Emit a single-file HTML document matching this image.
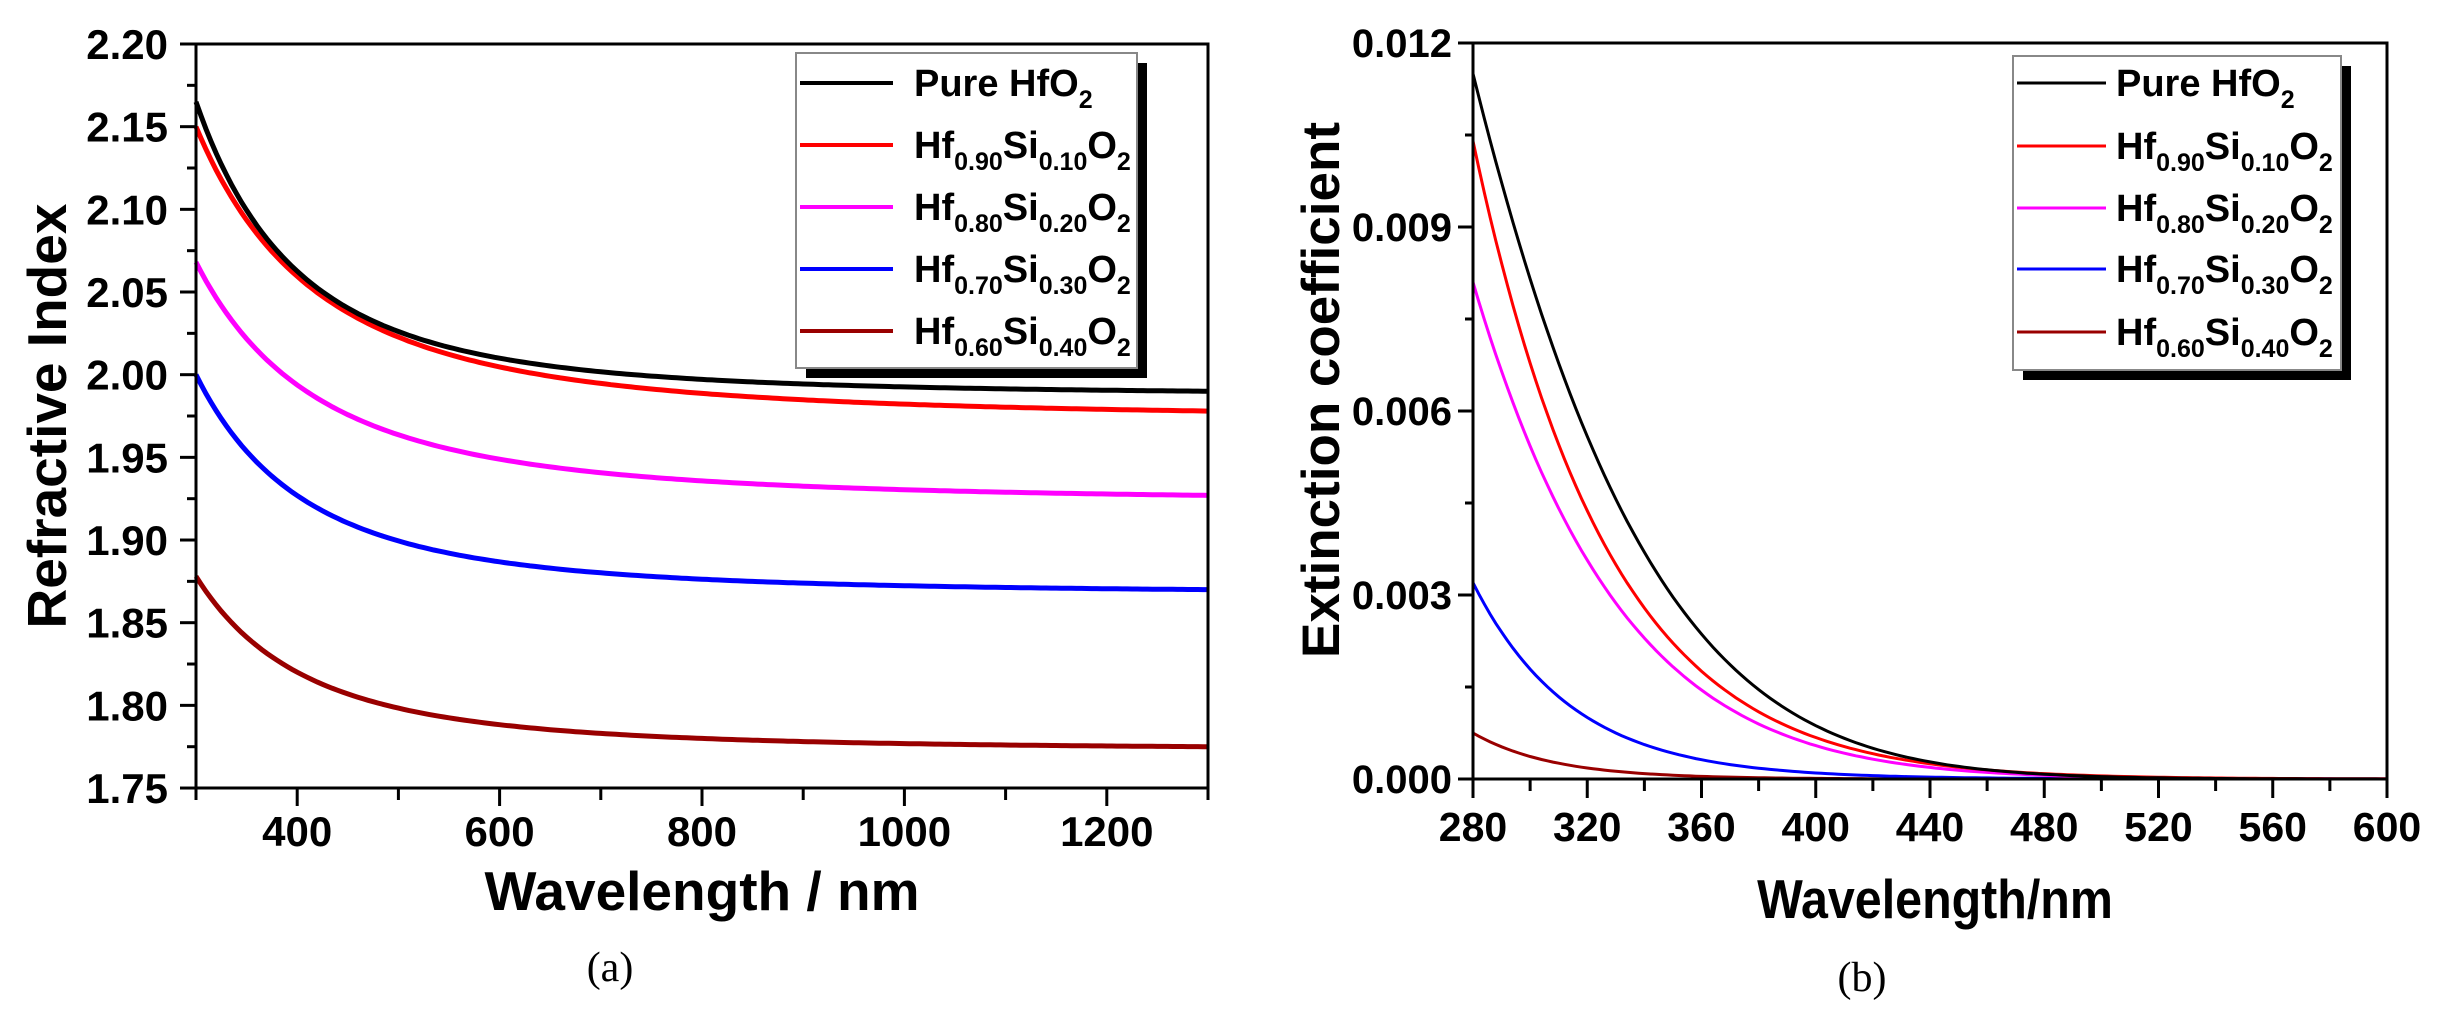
<!DOCTYPE html>
<html><head><meta charset="utf-8">
<style>
html,body{margin:0;padding:0;background:#fff;}
svg{display:block;}
text{font-family:"Liberation Sans",Arial,sans-serif;font-weight:bold;fill:#000;}
.cap{font-family:"Liberation Serif",serif;font-weight:normal;}
</style></head>
<body>
<svg id="s" width="2445" height="1011" viewBox="0 0 2445 1011" xmlns="http://www.w3.org/2000/svg">
<rect width="2445" height="1011" fill="#fff"/>
<g id="L"></g>
<g id="R"></g>
<text x="47" y="416" font-size="55" text-anchor="middle" transform="rotate(-90 47 416)" dy="19">Refractive Index</text>
<text x="702" y="910" font-size="55" text-anchor="middle">Wavelength / nm</text>
<text class="cap" x="610" y="981" font-size="42" text-anchor="middle">(a)</text>
<text x="1320" y="390" font-size="53" text-anchor="middle" transform="rotate(-90 1320 390)" dy="19">Extinction coefficient</text>
<text x="1935" y="918" font-size="55" text-anchor="middle" transform="translate(1935 0) scale(0.88 1) translate(-1935 0)">Wavelength/nm</text>
<text class="cap" x="1862" y="991" font-size="42" text-anchor="middle">(b)</text>
</svg>
<script>
var NS="http://www.w3.org/2000/svg";
function el(p,t,a,txt){var e=document.createElementNS(NS,t);for(var k in a)e.setAttribute(k,a[k]);if(txt!==undefined)e.textContent=txt;p.appendChild(e);return e;}
var L=document.getElementById('L'),R=document.getElementById('R');
var lx=function(w){return 196+(w-300)*1.012;};
var ly=function(n){return 44+(2.20-n)/0.05*82.67;};
var curvesL=[["#000",2.165,1.990,3.0],["#ff0000",2.150,1.978,2.5],["#ff00ff",2.068,1.927,2.5],["#0000ff",2.000,1.870,2.8],["#990000",1.878,1.775,2.8]];
curvesL.slice().reverse().forEach(function(c){
  var f=Math.pow(300/1300,c[3]);var ninf=(c[2]-c[1]*f)/(1-f);var d="";
  for(var w=300;w<=1300;w+=5){var n=ninf+(c[1]-ninf)*Math.pow(300/w,c[3]);d+=(w==300?"M":"L")+lx(w).toFixed(1)+","+ly(n).toFixed(1);}
  el(L,"path",{d:d,fill:"none",stroke:c[0],"stroke-width":5});
});
el(L,"rect",{x:196,y:44,width:1012,height:744,fill:"none",stroke:"#000","stroke-width":3});
for(var i=0;i<=18;i++){var v=2.20-i*0.025;var y=ly(v);var maj=i%2==0;
  el(L,"line",{x1:maj?180:187,y1:y,x2:196,y2:y,stroke:"#000","stroke-width":3});
  if(maj)el(L,"text",{x:168,y:y+15,"font-size":42,"text-anchor":"end"},v.toFixed(2));}
for(var w=300;w<=1300;w+=100){var x=lx(w);var maj=(w%200==0);
  el(L,"line",{x1:x,y1:788,x2:x,y2:maj?806:800,stroke:"#000","stroke-width":3});
  if(maj)el(L,"text",{x:x,y:846,"font-size":42,"text-anchor":"middle"},String(w));}
el(L,"rect",{x:806,y:63,width:341,height:315,fill:"#000"});
el(L,"rect",{x:796,y:53,width:341,height:315,fill:"#fff",stroke:"#888","stroke-width":2});
var legRows=[83,145,207,269,331];
var legCols=["#000","#ff0000","#ff00ff","#0000ff","#990000"];
var subs=[null,["0.90","0.10"],["0.80","0.20"],["0.70","0.30"],["0.60","0.40"]];
function legend(g,x1,x2,tx,rows,fs,sfs,sw){
  rows.forEach(function(y,i){
    el(g,"line",{x1:x1,y1:y,x2:x2,y2:y,stroke:legCols[i],"stroke-width":sw});
    var t=el(g,"text",{x:tx,y:y+13,"font-size":fs});
    if(i==0){t.appendChild(document.createTextNode("Pure HfO"));el(t,"tspan",{"font-size":sfs,dy:12},"2");}
    else{
      el(t,"tspan",{},"Hf");el(t,"tspan",{"font-size":sfs,dy:12},subs[i][0]);
      el(t,"tspan",{dy:-12},"Si");el(t,"tspan",{"font-size":sfs,dy:12},subs[i][1]);
      el(t,"tspan",{dy:-12},"O");el(t,"tspan",{"font-size":sfs,dy:12},"2");}
  });
}
legend(L,800,893,914,legRows,38,25,4);
var rx=function(w){return 1473+(w-280)*(914/320);};
var ry=function(k){return 779-k*(736/0.012);};
var curvesR=[["#000",0.0115,0.01632,4.33e-5],["#ff0000",0.0104,0.0211,1.4e-5],["#ff00ff",0.0081,0.0195,2.5e-5],["#0000ff",0.0032,0.029,0],["#990000",0.00075,0.0357,0]];
curvesR.slice().reverse().forEach(function(c){var d="";
  for(var w=280;w<=600;w+=2){var t=w-280;var k=c[1]*Math.exp(-c[2]*t-c[3]*t*t);d+=(w==280?"M":"L")+rx(w).toFixed(1)+","+ry(k).toFixed(1);}
  el(R,"path",{d:d,fill:"none",stroke:c[0],"stroke-width":3});
});
el(R,"rect",{x:1473,y:43,width:914,height:736,fill:"none",stroke:"#000","stroke-width":3});
for(var i=0;i<=8;i++){var v=i*0.0015;var y=ry(v);var maj=i%2==0;
  el(R,"line",{x1:maj?1458:1465,y1:y,x2:1473,y2:y,stroke:"#000","stroke-width":3});
  if(maj)el(R,"text",{x:1452,y:y+14,"font-size":40,"text-anchor":"end"},v.toFixed(3));}
for(var w=280;w<=600;w+=20){var x=rx(w);var maj=((w-280)%40==0);
  el(R,"line",{x1:x,y1:779,x2:x,y2:maj?798:791,stroke:"#000","stroke-width":3});
  if(maj)el(R,"text",{x:x,y:841,"font-size":41,"text-anchor":"middle"},String(w));}
el(R,"rect",{x:2023,y:66,width:328,height:314,fill:"#000"});
el(R,"rect",{x:2013,y:56,width:328,height:314,fill:"#fff",stroke:"#888","stroke-width":2});
legend(R,2017,2106,2116,[83,146,208,269,332],38,25,3);
</script>
</body></html>
